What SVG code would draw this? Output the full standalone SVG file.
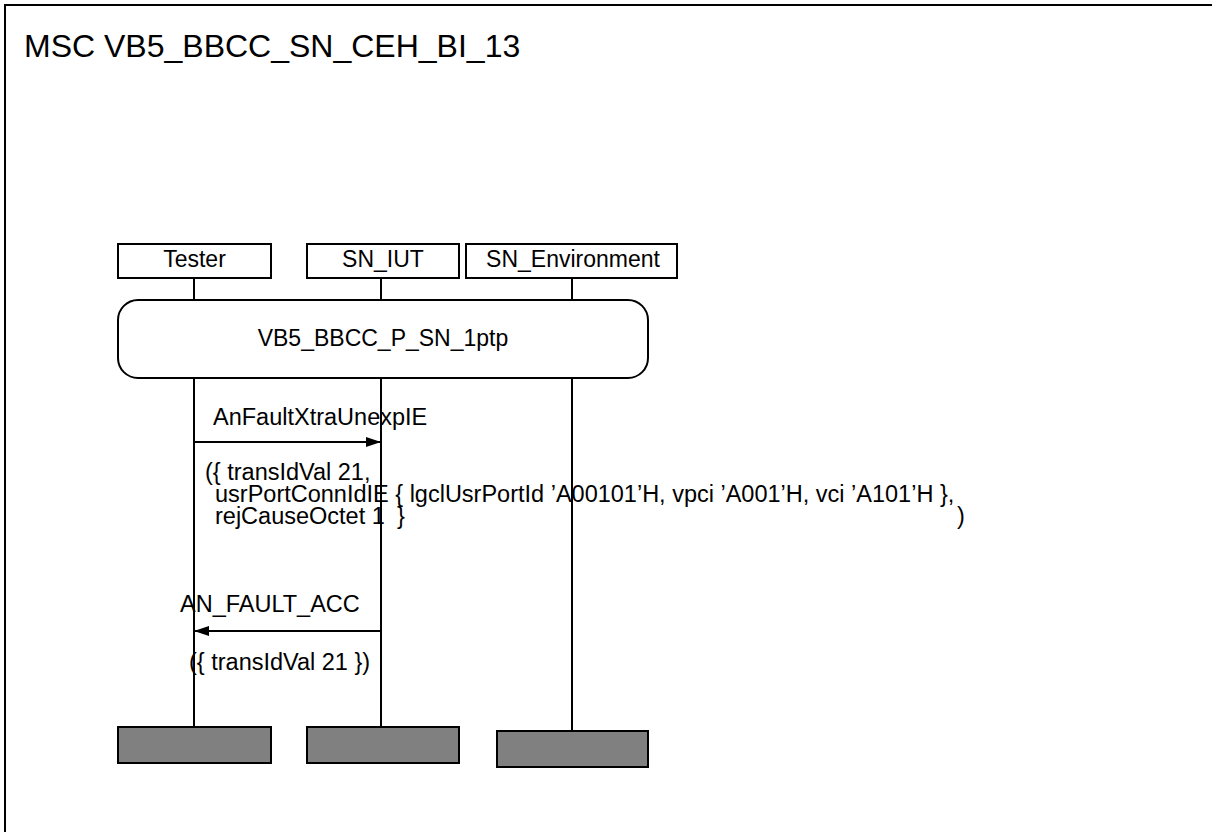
<svg xmlns="http://www.w3.org/2000/svg" width="1212" height="832" viewBox="0 0 1212 832">
<style>
text{font-family:"Liberation Sans",Arial,sans-serif;font-size:23px;fill:#000}
.title{font-size:32px}
.p{font-size:23.5px}
.box{fill:#fff;stroke:#000;stroke-width:2}
.end{fill:#808080;stroke:#000;stroke-width:2}
.life{stroke:#000;stroke-width:2;fill:none}
.msg{stroke:#000;stroke-width:2;fill:none;marker-end:url(#arr)}
</style>
<defs>
<marker id="arr" markerUnits="userSpaceOnUse" markerWidth="16" markerHeight="12" refX="15" refY="6" orient="auto">
<path d="M0,1 L15,6 L0,11 Z" fill="#000"/>
</marker>
</defs>
<rect x="0" y="0" width="1212" height="832" fill="#fff"/>
<rect x="5" y="5" width="1300" height="900" fill="none" stroke="#000" stroke-width="2"/>
<text class="title" x="24" y="57">MSC VB5_BBCC_SN_CEH_BI_13</text>

<g id="tester">
<rect class="box" x="118" y="244" width="153" height="34"/>
<text x="194.5" y="267" text-anchor="middle">Tester</text>
<line class="life" x1="194" y1="278" x2="194" y2="300"/>
<line class="life" x1="194" y1="378" x2="194" y2="727"/>
<rect class="end" x="118" y="727" width="153" height="36"/>
</g>
<g id="sn_iut">
<rect class="box" x="307" y="244" width="152" height="34"/>
<text x="383" y="267" text-anchor="middle">SN_IUT</text>
<line class="life" x1="381" y1="278" x2="381" y2="300"/>
<line class="life" x1="381" y1="378" x2="381" y2="727"/>
<rect class="end" x="307" y="727" width="152" height="36"/>
</g>
<g id="sn_env">
<rect class="box" x="466" y="244" width="211" height="34"/>
<text x="573" y="267" text-anchor="middle">SN_Environment</text>
<line class="life" x1="572" y1="278" x2="572" y2="300"/>
<line class="life" x1="572" y1="378" x2="572" y2="731"/>
<rect class="end" x="497" y="731" width="151" height="36"/>
</g>
<g id="ref">
<rect class="box" x="118" y="300" width="530" height="78" rx="20" ry="20"/>
<text x="383" y="346" text-anchor="middle">VB5_BBCC_P_SN_1ptp</text>
</g>
<g id="connectors">
<line class="msg" x1="194" y1="442" x2="381" y2="442"/>
<text class="p" x="213" y="425">AnFaultXtraUnexpIE</text>
<text class="p" x="205" y="480">({ transIdVal 21,</text>
<text class="p" x="215" y="502">usrPortConnIdIE { lgclUsrPortId ’A00101’H, vpci ’A001’H, vci ’A101’H },</text>
<text class="p" x="215" y="524">rejCauseOctet 1</text>
<text class="p" x="397" y="524">}</text>
<text class="p" x="957" y="524">)</text>
<line class="msg" x1="381" y1="631" x2="194" y2="631"/>
<text class="p" x="180" y="612">AN_FAULT_ACC</text>
<text class="p" x="189" y="670">({ transIdVal 21 })</text>
</g>
</svg>
